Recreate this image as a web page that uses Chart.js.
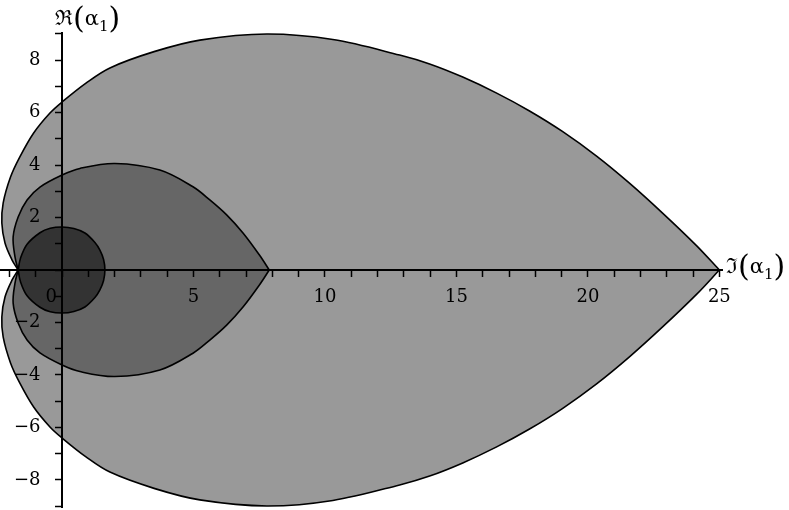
<!DOCTYPE html>
<html>
<head>
<meta charset="utf-8">
<script src="https://cdn.jsdelivr.net/npm/chart.js@4"></script>
<style>
  body { margin: 0; background: #fff; }
  #wrap { position: relative; width: 789px; height: 510px; }
  .lbl { position: absolute; font-family: 'DejaVu Serif', serif; font-size: 21px; color: #000; white-space: nowrap; line-height: 1; }
  .lbl .p { font-size: 30px; vertical-align: -3px; }
  .lbl sub { font-size: 15px; vertical-align: -6px; }
</style>
</head>
<body>
<div id="wrap">
  <canvas id="chart" width="789" height="510"></canvas>
  <div class="lbl" style="left:55px; top:3px;">ℜ<span class="p">(</span>α<sub>1</sub><span class="p">)</span></div>
  <div class="lbl" style="left:726px; top:251px;">ℑ<span class="p">(</span>α<sub>1</sub><span class="p">)</span></div>
</div>
<script>
// upper halves (left meeting point -> right end); lower half is the mirror image
const outerX = [-1.67, -1.90, -2.17, -2.29, -2.24, -1.96, -1.61, -1.08, -0.46, 0, 0.91, 1.82, 3.50, 5.24, 7.79, 10.30, 12.84, 13.98, 15.24, 16.53, 17.78, 19.03, 20.33, 21.58, 22.84, 24.13, 25];
const outerY = [0, 0.38, 1.03, 1.79, 2.55, 3.54, 4.30, 5.22, 5.98, 6.40, 7.12, 7.70, 8.32, 8.76, 8.99, 8.78, 8.19, 7.85, 7.35, 6.74, 6.06, 5.28, 4.34, 3.31, 2.17, 0.93, 0];

const middleX = [-1.67, -1.79, -1.86, -1.67, -1.33, -0.84, 0, 0.68, 2.01, 3.72, 4.98, 5.62, 6.26, 6.89, 7.52, 7.88];
const middleY = [0, 0.50, 1.26, 2.02, 2.67, 3.16, 3.62, 3.87, 4.06, 3.81, 3.17, 2.67, 2.10, 1.40, 0.55, 0];

const innerX = [-1.67, -1.58, -1.33, -0.84, -0.45, 0, 0.45, 0.87, 1.25, 1.44, 1.58, 1.63];
const innerY = [0, 0.45, 0.98, 1.42, 1.59, 1.64, 1.58, 1.41, 1.05, 0.76, 0.40, 0];

const xTicks = [0, 5, 10, 15, 20, 25];
const yTicks = [-8, -6, -4, -2, 2, 4, 6, 8];

function closedShape(xs, ys, sharpEnd) {
    const up = xs.map((x, i) => ({ x: x, y: ys[i] }));
    let down = up.slice().reverse().map(p => ({ x: p.x, y: -p.y }));
    if (!sharpEnd) down = down.slice(1);
    return up.concat(down);
}

function shapeSet(data, color, order) {
    return {
        data: data,
        showLine: true,
        fill: 'shape',
        backgroundColor: color,
        borderColor: '#000',
        borderWidth: 1.6,
        pointRadius: 0,
        tension: 0.35,
        order: order
    };
}

function noPad(scale) {
    scale.paddingLeft = 0; scale.paddingRight = 0;
    scale.paddingTop = 0; scale.paddingBottom = 0;
}

const ctx = document.getElementById('chart').getContext('2d');
new Chart(ctx, {
    type: 'scatter',
    data: {
        datasets: [
            shapeSet(closedShape(outerX, outerY, true), '#999999', 3),
            shapeSet(closedShape(middleX, middleY, true), '#666666', 2),
            shapeSet(closedShape(innerX, innerY, false), '#333333', 1)
        ]
    },
    options: {
        responsive: false,
        animation: false,
        layout: { padding: { left: 0, right: 67, top: 33, bottom: 3 } },
        plugins: { legend: { display: false }, tooltip: { enabled: false } },
        scales: {
            x: {
                type: 'linear',
                min: -2.36,
                max: 25.1,
                position: { y: 0 },
                afterFit: function (scale) { scale.height = 0; noPad(scale); },
                grid: { drawOnChartArea: false, tickLength: 6, tickColor: '#000', tickWidth: 1.5, z: 1 },
                border: { display: true, color: '#000', width: 2, z: 1 },
                ticks: {
                    stepSize: 1,
                    includeBounds: false,
                    autoSkip: false,
                    maxRotation: 0,
                    padding: 11,
                    color: '#000',
                    z: 1,
                    font: { family: 'DejaVu Serif', size: 18 },
                    callback: function (v) {
                        if (!xTicks.includes(v)) return '';
                        return v === 0 ? '0\u2003\u2009' : String(v);
                    }
                }
            },
            y: {
                type: 'linear',
                min: -9.03,
                max: 9.03,
                position: { x: 0 },
                afterFit: function (scale) { scale.width = 0; noPad(scale); },
                grid: { drawOnChartArea: false, tickLength: 6, tickColor: '#000', tickWidth: 1.5, z: 1 },
                border: { display: true, color: '#000', width: 2, z: 1 },
                ticks: {
                    stepSize: 1,
                    includeBounds: false,
                    autoSkip: false,
                    color: '#000',
                    z: 1,
                    font: { family: 'DejaVu Serif', size: 18 },
                    callback: function (v) {
                        if (!yTicks.includes(v)) return '';
                        const s = v < 0 ? '\u2212' + Math.abs(v) : String(v);
                        return s + '\u2003\u2009';
                    }
                }
            }
        }
    }
});
</script>
</body>
</html>
